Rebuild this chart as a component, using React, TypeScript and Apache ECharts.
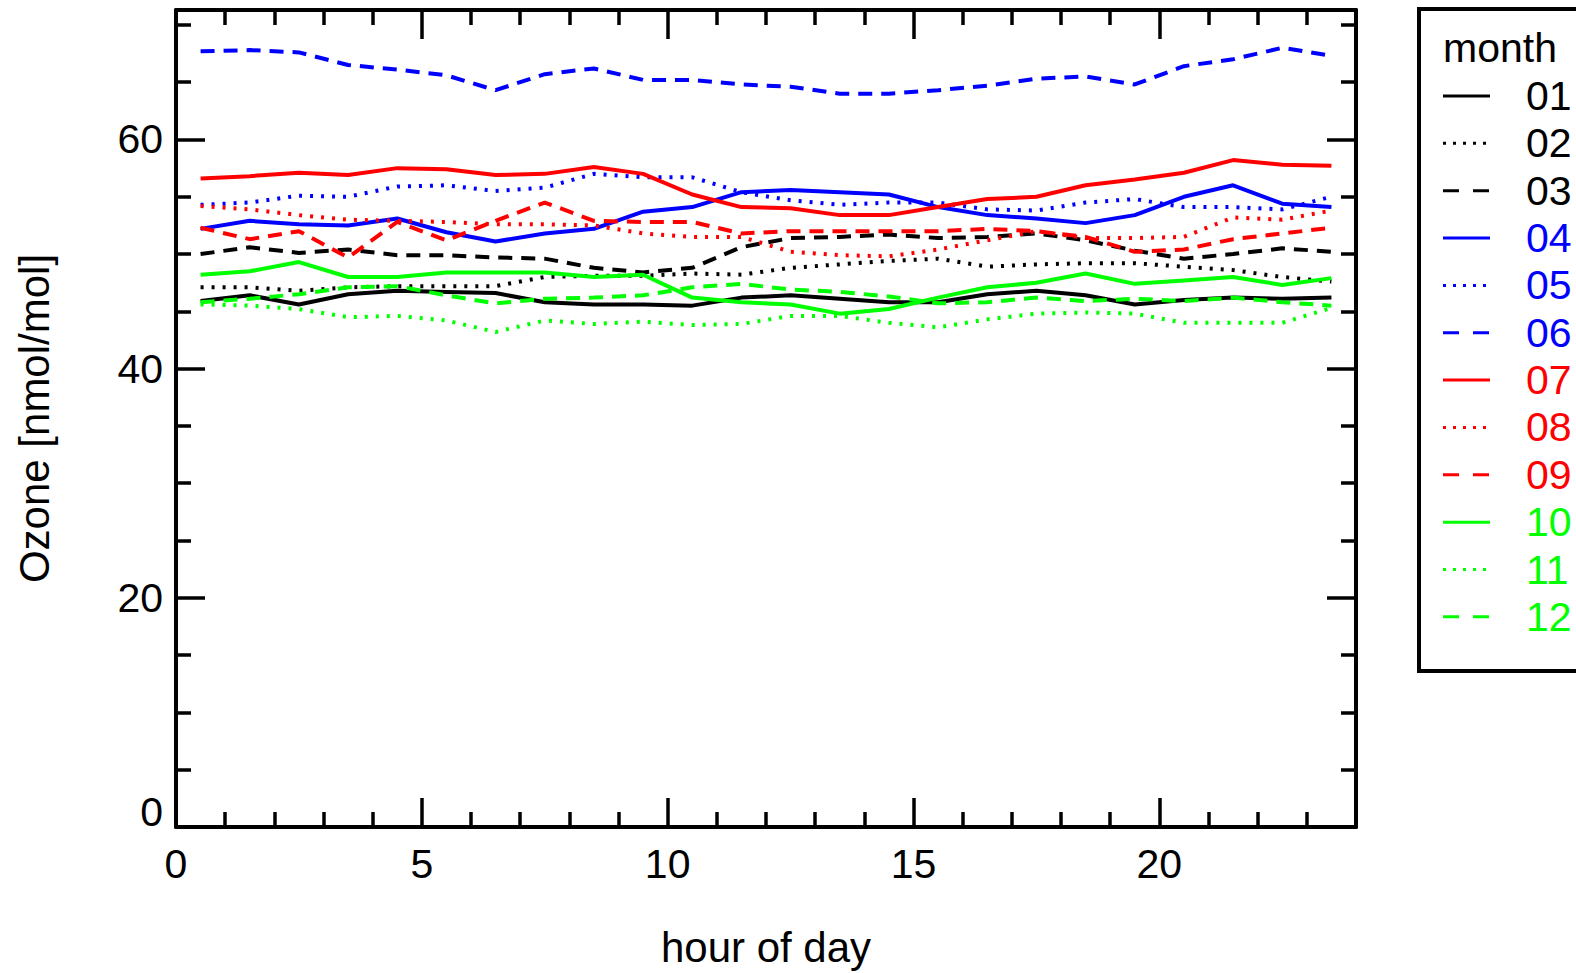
import React, { useEffect, useRef } from "react";
import * as echarts from "echarts";

const hours = [0.5, 1.5, 2.5, 3.5, 4.5, 5.5, 6.5, 7.5, 8.5, 9.5, 10.5, 11.5, 12.5, 13.5, 14.5, 15.5, 16.5, 17.5, 18.5, 19.5, 20.5, 21.5, 22.5, 23.5];

const months = ["01", "02", "03", "04", "05", "06", "07", "08", "09", "10", "11", "12"];

const m01 = [45.9, 46.4, 45.6, 46.5, 46.8, 46.7, 46.6, 45.8, 45.6, 45.6, 45.5, 46.2, 46.4, 46.1, 45.8, 45.8, 46.5, 46.8, 46.4, 45.6, 46.0, 46.2, 46.1, 46.2];
const m02 = [47.1, 47.1, 46.8, 47.1, 47.2, 47.2, 47.2, 48.0, 48.1, 48.1, 48.3, 48.2, 48.8, 49.1, 49.4, 49.6, 48.9, 49.1, 49.2, 49.2, 48.9, 48.6, 48.0, 47.6];
const m03 = [50.0, 50.6, 50.1, 50.4, 49.9, 49.9, 49.7, 49.6, 48.8, 48.4, 48.8, 50.6, 51.4, 51.5, 51.7, 51.4, 51.5, 51.8, 51.2, 50.3, 49.6, 50.0, 50.5, 50.2];
const m04 = [52.2, 52.9, 52.6, 52.5, 53.1, 51.9, 51.1, 51.8, 52.2, 53.7, 54.1, 55.4, 55.6, 55.4, 55.2, 54.1, 53.4, 53.1, 52.7, 53.4, 55.0, 56.0, 54.4, 54.1];
const m05 = [54.3, 54.5, 55.1, 55.0, 55.9, 56.0, 55.5, 55.8, 57.0, 56.7, 56.7, 55.4, 54.7, 54.3, 54.5, 54.5, 53.9, 53.8, 54.5, 54.8, 54.1, 54.1, 53.9, 55.0];
const m06 = [67.7, 67.8, 67.6, 66.5, 66.1, 65.6, 64.3, 65.7, 66.2, 65.2, 65.2, 64.8, 64.6, 64.0, 64.0, 64.3, 64.7, 65.3, 65.5, 64.8, 66.4, 67.0, 68.0, 67.3];
const m07 = [56.6, 56.8, 57.1, 56.9, 57.5, 57.4, 56.9, 57.0, 57.6, 57.0, 55.2, 54.1, 54.0, 53.4, 53.4, 54.1, 54.8, 55.0, 56.0, 56.5, 57.1, 58.2, 57.8, 57.7];
const m08 = [54.2, 53.9, 53.4, 53.0, 52.9, 52.8, 52.6, 52.6, 52.5, 51.8, 51.5, 51.5, 50.2, 49.9, 49.8, 50.4, 51.2, 52.0, 51.4, 51.4, 51.5, 53.2, 53.0, 53.8];
const m09 = [52.3, 51.3, 52.0, 49.7, 52.8, 51.2, 52.9, 54.5, 52.9, 52.8, 52.8, 51.8, 52.0, 52.0, 52.0, 52.0, 52.2, 52.0, 51.5, 50.2, 50.4, 51.3, 51.8, 52.3];
const m10 = [48.2, 48.5, 49.3, 48.0, 48.0, 48.4, 48.4, 48.4, 48.0, 48.2, 46.2, 45.8, 45.6, 44.8, 45.2, 46.2, 47.1, 47.5, 48.3, 47.4, 47.7, 48.0, 47.3, 47.9];
const m11 = [45.6, 45.5, 45.2, 44.5, 44.6, 44.2, 43.2, 44.2, 43.9, 44.1, 43.8, 43.9, 44.6, 44.6, 44.0, 43.6, 44.3, 44.8, 44.9, 44.8, 44.0, 44.0, 44.0, 45.3];
const m12 = [45.8, 46.1, 46.5, 47.1, 47.2, 46.4, 45.7, 46.1, 46.2, 46.4, 47.1, 47.4, 46.9, 46.7, 46.3, 45.7, 45.8, 46.2, 45.9, 46.1, 45.9, 46.2, 45.8, 45.5];

const seriesValues = [m01, m02, m03, m04, m05, m06, m07, m08, m09, m10, m11, m12];

const xTicks = [0, 5, 10, 15, 20];
const yTicks = [0, 20, 40, 60];

const FONT = "'Liberation Sans', Arial, Helvetica, sans-serif";
const COLORS = ["#000000", "#0000ff", "#ff0000", "#00ff00"];
const DASH_PLOT: any[] = ["solid", [3, 8], [14, 9]];
const DASH_LEGEND: any[] = [null, [3, 7], [16, 14]];

export default function App() {
  const ref = useRef<HTMLDivElement>(null);

  useEffect(() => {
    if (!ref.current) return;
    const chart = echarts.init(ref.current, null, { renderer: "svg" });

    const series = seriesValues.map((vals, i) => ({
      name: months[i],
      type: "line",
      xAxisIndex: 0,
      yAxisIndex: 0,
      symbol: "none",
      showSymbol: false,
      data: hours.map((h, j) => [h, vals[j]]),
      lineStyle: {
        color: COLORS[Math.floor(i / 3)],
        width: 4,
        type: DASH_PLOT[i % 3],
        cap: "butt",
      },
      z: 2,
    }));

    const axisCommon = {
      axisLine: { show: true, onZero: false, lineStyle: { color: "#000", width: 4 } },
      axisTick: { show: true, inside: true, length: 29, lineStyle: { color: "#000", width: 3.5 } },
      minorTick: { show: true, length: 15, lineStyle: { color: "#000", width: 3.5 } },
      splitLine: { show: false },
      minorSplitLine: { show: false },
    };

    const xAxisBase = {
      type: "value",
      min: 0,
      max: 24,
      interval: 5,
      ...axisCommon,
      minorTick: { ...axisCommon.minorTick, splitNumber: 5 },
    };
    const yAxisBase = {
      type: "value",
      min: 0,
      max: 71.3,
      interval: 20,
      ...axisCommon,
      minorTick: { ...axisCommon.minorTick, splitNumber: 4 },
    };

    const legendGraphics: any[] = [
      {
        type: "rect",
        shape: { x: 1419, y: 9, width: 260, height: 662 },
        style: { fill: "#fff", stroke: "#000", lineWidth: 4 },
        z: 10,
      },
      {
        type: "text",
        x: 1443,
        y: 48,
        style: { text: "month", fill: "#000", fontSize: 41, fontFamily: FONT, verticalAlign: "middle", align: "left" },
        z: 11,
      },
    ];
    months.forEach((m, i) => {
      const y = 96 + 47.35 * i;
      const color = COLORS[Math.floor(i / 3)];
      const dash = DASH_LEGEND[i % 3];
      legendGraphics.push({
        type: "line",
        shape: { x1: 1443, y1: y, x2: 1490, y2: y },
        style: dash ? { stroke: color, lineWidth: 3, lineDash: dash } : { stroke: color, lineWidth: 3 },
        z: 11,
      });
      legendGraphics.push({
        type: "text",
        x: 1526,
        y: y,
        style: { text: m, fill: color, fontSize: 41, fontFamily: FONT, verticalAlign: "middle", align: "left" },
        z: 11,
      });
    });

    chart.setOption({
      animation: false,
      backgroundColor: "#ffffff",
      textStyle: { fontFamily: FONT },
      grid: { left: 176, right: 220, top: 10, bottom: 144, containLabel: false },
      xAxis: [
        {
          ...xAxisBase,
          position: "bottom",
          name: "hour of day",
          nameLocation: "middle",
          nameGap: 99,
          nameTextStyle: { color: "#000", fontSize: 42, fontFamily: FONT },
          axisLabel: {
            show: true,
            color: "#000",
            fontSize: 41,
            fontFamily: FONT,
            margin: 16,
            formatter: (v: number) => (xTicks.indexOf(v) >= 0 ? String(v) : ""),
          },
        },
        {
          ...xAxisBase,
          position: "top",
          axisLabel: { show: false },
        },
      ],
      yAxis: [
        {
          ...yAxisBase,
          position: "left",
          name: "Ozone [nmol/mol]",
          nameLocation: "middle",
          nameGap: 121,
          nameRotate: 90,
          nameTextStyle: { color: "#000", fontSize: 42, fontFamily: FONT },
          axisLabel: {
            show: true,
            color: "#000",
            fontSize: 41,
            fontFamily: FONT,
            margin: 13,
            formatter: (v: number) =>
              yTicks.indexOf(v) < 0 ? "" : v === 0 ? "{z|0}" : String(v),
            rich: {
              z: { fontSize: 41, fontFamily: FONT, color: "#000", padding: [0, 0, 30, 0] },
            },
          },
        },
        {
          ...yAxisBase,
          position: "right",
          axisLabel: { show: false },
        },
      ],
      series,
      graphic: legendGraphics,
    });

    return () => chart.dispose();
  }, []);

  return (
    <div
      ref={ref}
      style={{ position: "absolute", left: 0, top: 0, width: 1576, height: 973, background: "#fff" }}
    />
  );
}
